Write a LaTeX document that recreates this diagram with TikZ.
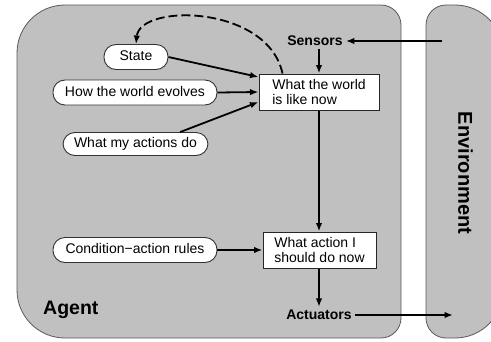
\documentclass[tikz,border=0pt]{standalone}
\usepackage{fontspec}
\setmainfont{Liberation Sans}
\usetikzlibrary{arrows.meta,calc}
\definecolor{agentgray}{RGB}{192,192,192}
\begin{document}
\begin{tikzpicture}[x=1pt,y=-1pt,
  txt/.style={font=\fontsize{14}{15}\selectfont},
  pill/.style={txt, draw=black!80, fill=white, line width=0.9pt, rounded corners=12pt,
    minimum height=25pt, inner sep=0pt, text height=10pt, text depth=3pt},
  statebox/.style={txt, draw=black!85, fill=white, line width=1pt, minimum height=36pt,
    align=left, inner sep=0pt},
  lbl/.style={font=\bfseries\fontsize{14}{15}\selectfont, inner sep=3pt},
  arr/.style={line width=1.8pt, -{Latex[length=8.5pt,width=6.5pt]}},
  region/.style={fill=agentgray, draw=black!65, line width=0.8pt}]
\useasboundingbox (0,0) rectangle (491,341);
\fill[white] (0,0) rectangle (491,341);
\clip (0,0) rectangle (491,341);
% agent region
\path[region] (17,200) -- (17,53) arc[start angle=180,end angle=270,radius=48]
  -- (381,5) arc[start angle=270,end angle=360,radius=20]
  -- (401,318) arc[start angle=0,end angle=90,radius=20]
  -- (65,338) arc[start angle=90,end angle=180,radius=48] -- cycle;
% environment region
\path[region] (426,171) -- (426,25) arc[start angle=180,end angle=270,radius=20]
  -- (455,5) arc[start angle=270,end angle=360,radius=48]
  -- (503,290) arc[start angle=0,end angle=90,radius=48]
  -- (446,338) arc[start angle=90,end angle=180,radius=20] -- cycle;
% labels
\node[font=\bfseries\fontsize{19.5}{22}\selectfont, inner sep=0pt, anchor=base west] (agent) at (43,314) {Agent};
\node[font=\bfseries\fontsize{20}{24}\selectfont, inner sep=0pt, rotate=-90] (env) at (465.5,173) {Environment};
\node[lbl] (sensors) at (315,41) {Sensors};
\node[lbl] (actuators) at (319,315) {Actuators};
% boxes
\node[statebox, minimum width=120pt] (world) at (319,92) {What the world\\is like now};
\node[statebox, minimum width=113pt] (action) at (319.5,250) {What action I\\should do now};
% pills
\node[pill, minimum width=64pt] (state) at (136,57) {State};
\node[pill, minimum width=164pt] (evolves) at (135,92.5) {How the world evolves};
\node[pill, minimum width=145pt, minimum height=23pt] (actions) at (135.5,144) {What my actions do};
\node[pill, minimum width=164pt] (rules) at (135,250) {Condition\textminus action rules};
% free ends
\coordinate (envin) at (442,41);
\coordinate (envout) at (453,315);
% connectors
\draw[arr] (envin) -- (sensors.east);
\draw[arr] (sensors.south -| world.north) -- (world.north);
\draw[arr] (world.south) -- (world.south |- action.north);
\draw[arr] (action.south -| world.south) -- (world.south |- actuators.north);
\draw[arr] (actuators.east) -- (envout);
\draw[arr] (state.east) -- ($(world.west)+(0,-15)$);
\draw[arr] (evolves.east) -- (world.west);
\draw[arr] (actions.15) -- ($(world.west)+(0,10)$);
\draw[arr] (rules.east) -- (action.west);
\draw[line width=1.8pt, dash pattern=on 9pt off 4pt, -{Latex[length=8.5pt,width=6.5pt]}]
  ($(world.north west)+(24,0)$) .. controls (268,5) and (140,3) .. (state.north);
\end{tikzpicture}
\end{document}
